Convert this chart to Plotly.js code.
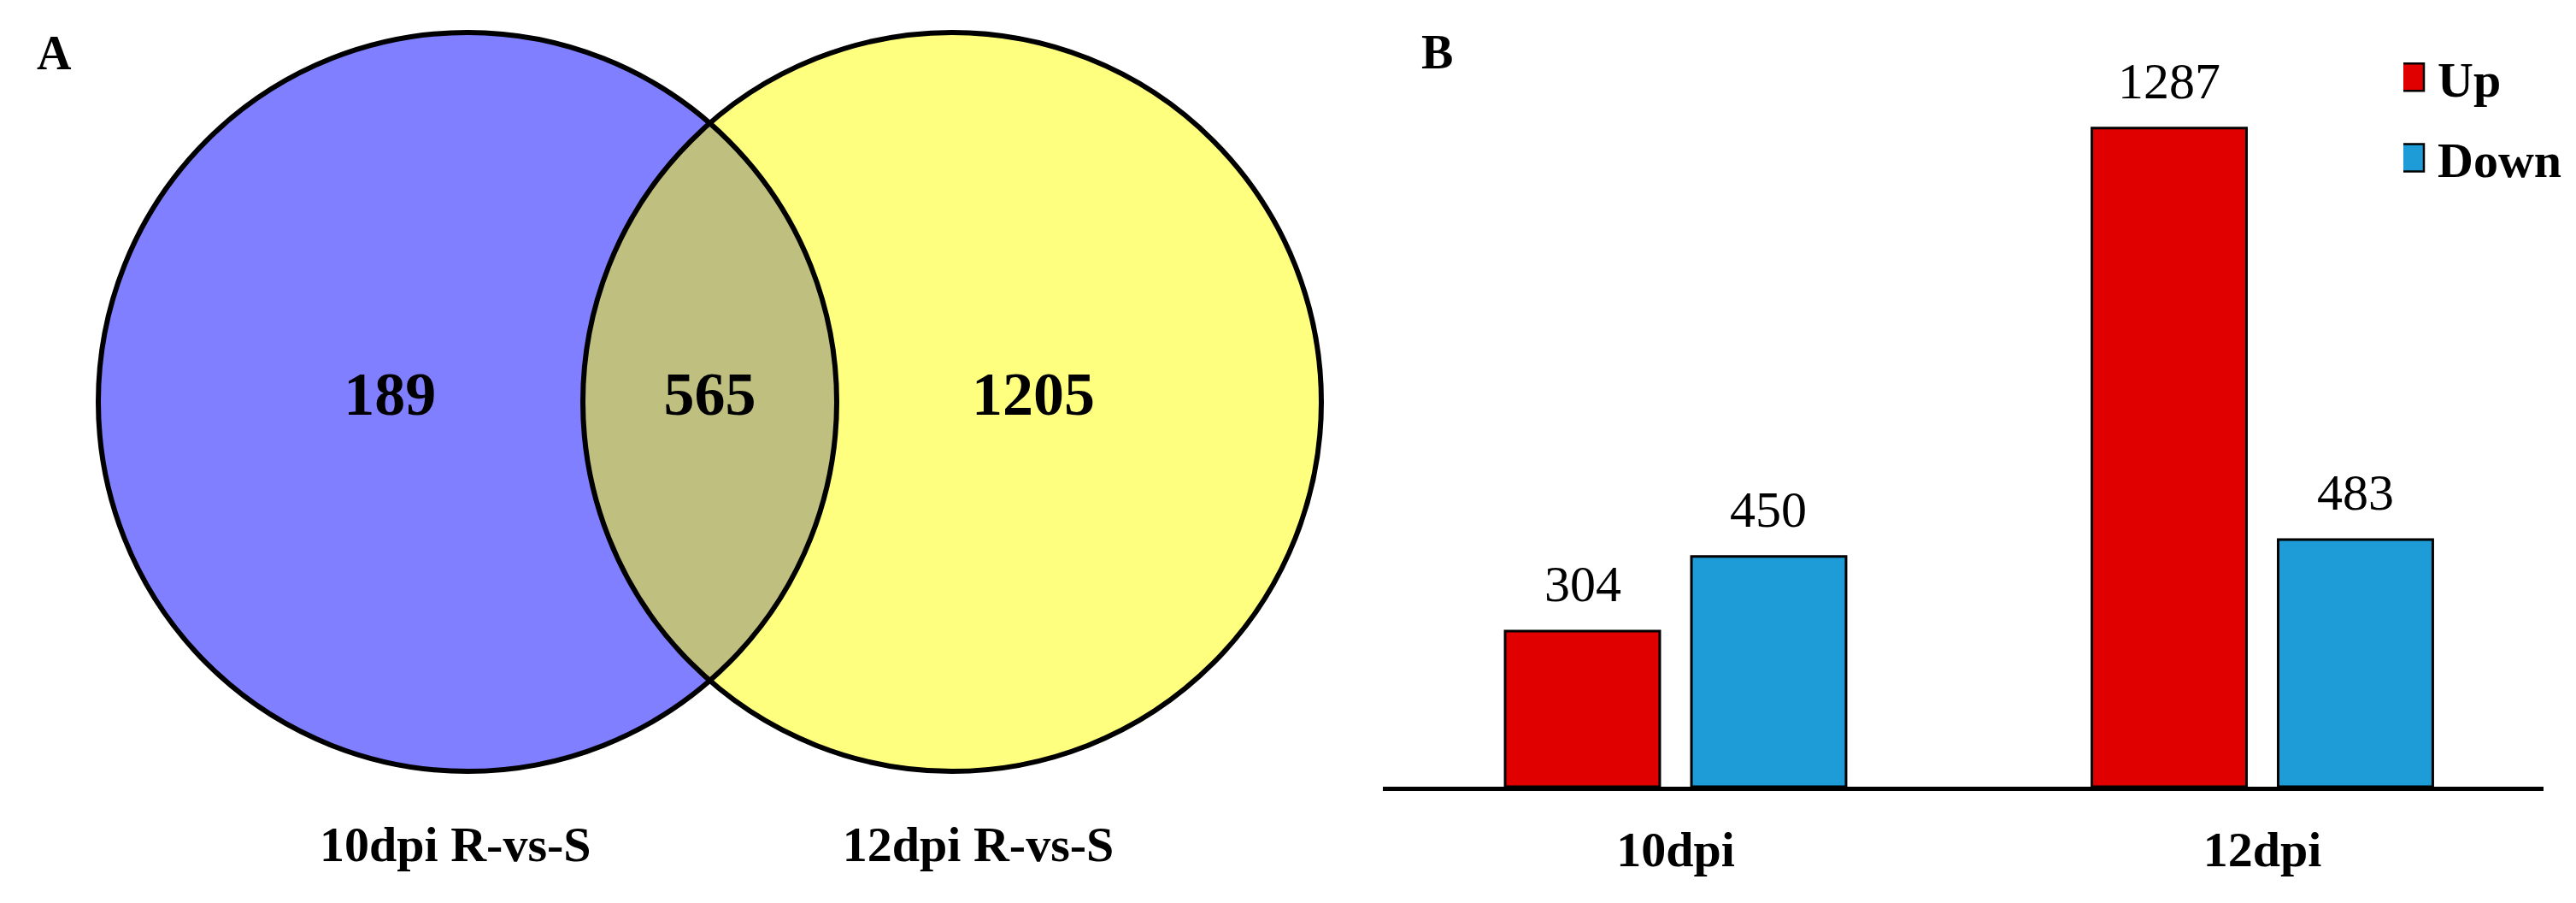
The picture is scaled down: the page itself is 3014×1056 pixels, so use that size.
<!DOCTYPE html>
<html>
<head>
<meta charset="utf-8">
<script src="https://cdn.plot.ly/plotly-3.0.1.min.js"></script>
<style>
  html, body { margin: 0; padding: 0; background: #ffffff; }
  #chart { width: 3014px; height: 1056px; }
</style>
</head>
<body>
<div id="chart"></div>
<script>
// ---------------- data ----------------
const vennSets = ['10dpi R-vs-S', '12dpi R-vs-S'];
const vennCounts = [189, 565, 1205];          // only 10dpi, shared, only 12dpi

const barCategories = ['10dpi', '12dpi'];
const seriesNames = ['Up', 'Down'];
const upValues = [304, 1287];
const downValues = [450, 483];

const panelLabels = ['A', 'B'];

// ---------------- styling / layout constants ----------------
const W = 3014, H = 1056;
const FONT = '"Liberation Serif", "Times New Roman", Times, serif';
const RED = '#E00000';
const BLUE = '#1E9CD7';

// Venn panel geometry (pixels -> units of one circle radius)
const R_PX = 432;
const VENN_W = 1600;
const VENN_MID_X = 830.5, VENN_MID_Y = 470;
const HALF_SEP = 283.5 / R_PX;               // half distance between centres, in radii
const vennX = [-VENN_MID_X / R_PX, (VENN_W - VENN_MID_X) / R_PX];
const vennY = [-(H - VENN_MID_Y) / R_PX, VENN_MID_Y / R_PX];

// bar panel geometry
const BAR_LEFT = 1618, BAR_RIGHT = 2976, BAR_BASE = 920;
const BARGAP = 0.365, BARGROUPGAP = 0.17;
const Y2_MAX = 1400, PX_PER_UNIT = 0.5985;
const barTopPx = BAR_BASE - Y2_MAX * PX_PER_UNIT;

const traces = [
  {
    type: 'scatter', mode: 'text', xaxis: 'x', yaxis: 'y',
    x: [-HALF_SEP - 0.21, 0, HALF_SEP + 0.22], y: [0.007, 0.007, 0.007],
    text: vennCounts.map(String),
    textposition: 'middle center',
    textfont: { family: FONT, size: 72, color: '#000', weight: 'bold' },
    hoverinfo: 'skip', showlegend: false, cliponaxis: false
  },
  {
    type: 'scatter', mode: 'text', xaxis: 'x', yaxis: 'y',
    x: [-0.689, 0.727], y: [-1.21, -1.21],
    text: vennSets,
    textposition: 'middle center',
    textfont: { family: FONT, size: 58, color: '#000', weight: 'bold' },
    hoverinfo: 'skip', showlegend: false, cliponaxis: false
  },
  {
    type: 'bar', name: seriesNames[0], xaxis: 'x2', yaxis: 'y2', legendgroup: 'up',
    x: barCategories, y: upValues,
    marker: { color: RED, line: { color: '#000', width: 3 } }
  },
  {
    type: 'bar', name: seriesNames[1], xaxis: 'x2', yaxis: 'y2', legendgroup: 'down',
    x: barCategories, y: downValues,
    marker: { color: BLUE, line: { color: '#000', width: 3 } }
  }
];

// value labels above bars
const slotOffset = (1 - BARGAP) / 4;
const annotations = [];
barCategories.forEach((c, i) => {
  [[upValues, -slotOffset], [downValues, slotOffset]].forEach(([vals, off]) => {
    annotations.push({
      xref: 'x2', yref: 'y2', x: i + off, y: vals[i],
      text: String(vals[i]), showarrow: false,
      yanchor: 'middle', xanchor: 'center', yshift: 55,
      font: { family: FONT, size: 60, color: '#000' }
    });
  });
});
// panel letters
annotations.push({
  xref: 'paper', yref: 'paper', x: 63 / W, y: 1 - 62 / H,
  text: panelLabels[0], showarrow: false, xanchor: 'center', yanchor: 'middle',
  font: { family: FONT, size: 56, color: '#000', weight: 'bold' }
});
annotations.push({
  xref: 'paper', yref: 'paper', x: 1681 / W, y: 1 - 61 / H,
  text: panelLabels[1], showarrow: false, xanchor: 'center', yanchor: 'middle',
  font: { family: FONT, size: 56, color: '#000', weight: 'bold' }
});

const circle = (cx, fill, line) => ({
  type: 'circle', xref: 'x', yref: 'y', layer: 'below',
  x0: cx - 1, x1: cx + 1, y0: -1, y1: 1, fillcolor: fill, line: line
});
const shapes = [
  circle(-HALF_SEP, 'rgba(0,0,255,0.5)', { width: 0 }),
  circle(HALF_SEP, 'rgba(255,255,0,0.5)', { width: 0 }),
  circle(-HALF_SEP, 'rgba(0,0,0,0)', { color: '#000', width: 6 }),
  circle(HALF_SEP, 'rgba(0,0,0,0)', { color: '#000', width: 6 })
];

const layout = {
  width: W, height: H,
  margin: { l: 0, r: 0, t: 0, b: 0, pad: 0 },
  paper_bgcolor: '#ffffff', plot_bgcolor: 'rgba(0,0,0,0)',
  showlegend: true,
  font: { family: FONT, color: '#000' },
  barmode: 'group', bargap: BARGAP, bargroupgap: BARGROUPGAP,
  xaxis: { domain: [0, VENN_W / W], range: vennX, visible: false, fixedrange: true },
  yaxis: { domain: [0, 1], range: vennY, visible: false, fixedrange: true },
  xaxis2: {
    domain: [BAR_LEFT / W, BAR_RIGHT / W], anchor: 'y2',
    range: [(BAR_LEFT - 1960.5) / 686.5, (BAR_RIGHT - 1960.5) / 686.5],
    showline: true, linecolor: '#000', linewidth: 5,
    showgrid: false, zeroline: false, ticks: '',
    ticklabelstandoff: 18,
    tickfont: { family: FONT, size: 58, color: '#000', weight: 'bold' }
  },
  yaxis2: {
    domain: [(H - BAR_BASE) / H, (H - barTopPx) / H], anchor: 'x2',
    range: [0, Y2_MAX], visible: false, showgrid: false, zeroline: false
  },
  legend: {
    x: 2812 / W, xanchor: 'left', y: 1 - 46 / H, yanchor: 'top',
    traceorder: 'grouped', tracegroupgap: 16,
    bgcolor: 'rgba(0,0,0,0)', borderwidth: 0,
    font: { family: FONT, size: 58, color: '#000', weight: 'bold' },
    itemclick: false, itemdoubleclick: false
  },
  shapes: shapes,
  annotations: annotations
};

Plotly.newPlot('chart', traces, layout, { displayModeBar: false, staticPlot: true }).then(gd => {
  // enlarge the legend swatches to match the reference's large squares
  gd.querySelectorAll('.legend .legendpoints path').forEach(p => {
    p.setAttribute('d', 'M4,16H-28V-16H4Z');
    p.style.strokeWidth = '2.5px';
  });
});
</script>
</body>
</html>
